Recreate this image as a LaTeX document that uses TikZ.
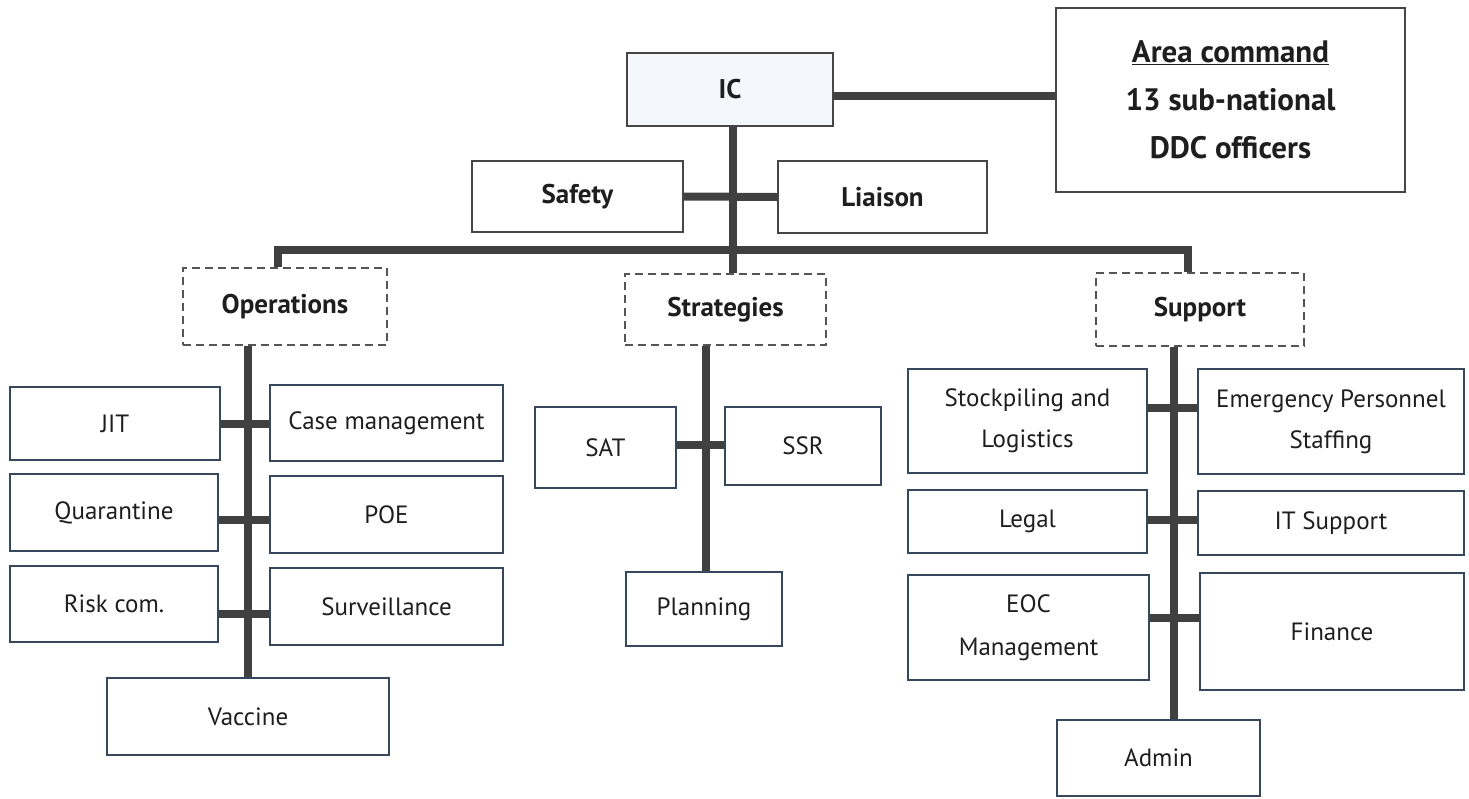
\documentclass[tikz,border=0pt]{standalone}
\usepackage{fontspec}
\setmainfont{PT Sans}
\definecolor{boxc}{RGB}{55,72,92}
\definecolor{topc}{RGB}{70,70,72}
\definecolor{dashc}{RGB}{85,85,85}
\definecolor{linec}{RGB}{64,64,64}
\definecolor{txt}{RGB}{30,30,30}
\definecolor{tint}{RGB}{244,248,252}
\begin{document}
\begin{tikzpicture}[x=1pt,y=-1pt,
  box/.style={draw=boxc, line width=2.2pt, fill=white, text=txt,
    font=\fontsize{25}{41}\selectfont, align=center, inner sep=0pt},
  topbox/.style={draw=topc, line width=2.2pt, fill=white, text=txt,
    font=\bfseries\fontsize{27}{30}\selectfont, align=center, inner sep=0pt},
  dbox/.style={draw=dashc, line width=2pt, dash pattern=on 8pt off 5pt,
    fill=white, text=txt, font=\bfseries\fontsize{27}{30}\selectfont, inner sep=0pt},
  link/.style={draw=linec, line width=8pt}]
\useasboundingbox (0,0) rectangle (1469,798);

% top level
\node[topbox, fill=tint, minimum width=206pt, minimum height=73pt] (ic) at (730,89.5) {IC};
\node[topbox, minimum width=349pt, minimum height=184pt,
  font=\bfseries\fontsize{31}{48}\selectfont] (area) at (1230.5,100)
  {\underline{Area command}\\13 sub-national\\DDC officers};
\node[topbox, minimum width=211pt, minimum height=71pt] (safety) at (577.5,196.5) {Safety};
\node[topbox, minimum width=209pt, minimum height=72pt] (liaison) at (882.5,197) {Liaison};

% sections
\node[dbox, minimum width=204pt, minimum height=77pt] (ops) at (285,306.5) {Operations};
\node[dbox, minimum width=201pt, minimum height=71pt] (strat) at (725.5,309.5) {Strategies};
\node[dbox, minimum width=208pt, minimum height=73pt] (sup) at (1200,309.5) {Support};

% operations
\node[box, minimum width=210pt, minimum height=73pt] (jit) at (115,423.5) {JIT};
\node[box, minimum width=233pt, minimum height=76pt] (case) at (386.5,423) {Case management};
\node[box, minimum width=208pt, minimum height=77pt] (quar) at (114,512.5) {Quarantine};
\node[box, minimum width=233pt, minimum height=77pt] (poe) at (386.5,514.5) {POE};
\node[box, minimum width=208pt, minimum height=76pt] (risk) at (114,604) {Risk com.};
\node[box, minimum width=233pt, minimum height=77pt] (surv) at (386.5,606.5) {Surveillance};
\node[box, minimum width=282pt, minimum height=77pt] (vacc) at (248,716.5) {Vaccine};

% strategies
\node[box, minimum width=141pt, minimum height=81pt] (sat) at (605.5,447.5) {SAT};
\node[box, minimum width=156pt, minimum height=78pt] (ssr) at (803,446) {SSR};
\node[box, minimum width=156pt, minimum height=74pt] (plan) at (704,609) {Planning};

% support
\node[box, minimum width=239pt, minimum height=104pt] (stock) at (1027.5,421) {Stockpiling and\\Logistics};
\node[box, minimum width=266pt, minimum height=105pt] (emerg) at (1331,421.5) {Emergency Personnel\\Staffing};
\node[box, minimum width=239pt, minimum height=63pt] (legal) at (1027.5,521.5) {Legal};
\node[box, minimum width=266pt, minimum height=64pt] (it) at (1331,523) {IT Support};
\node[box, minimum width=241pt, minimum height=105pt,
  font=\fontsize{25}{43}\selectfont] (eoc) at (1028.5,627.5) {EOC\\Management};
\node[box, minimum width=264pt, minimum height=117pt] (fin) at (1332,631.5) {Finance};
\node[box, minimum width=203pt, minimum height=76pt] (admin) at (1158.5,758) {Admin};

% connectors
\coordinate (bar) at (733,250);
\draw[link] ([yshift=-6.5pt]ic.east) -- ([yshift=-6.5pt]ic.east -| area.west);
\draw[link] ([xshift=3pt]ic.south) -- ([xshift=3pt]ic.south |- strat.north);
\draw[link] (safety.east) -- (liaison.west);
\draw[link] ([xshift=-7pt]ops.north) |- (bar) -| ([xshift=-12pt]sup.north);

\draw[link] (vacc.north) -- (vacc.north |- ops.south);
\draw[link] (jit.east) -- (jit.east -| case.west);
\draw[link] ([yshift=-7.5pt]quar.east) -- ([yshift=-7.5pt]quar.east -| poe.west);
\draw[link] ([yshift=-10pt]risk.east) -- ([yshift=-10pt]risk.east -| surv.west);

\draw[link] ([xshift=2pt]plan.north) -- ([xshift=2pt]plan.north |- strat.south);
\draw[link] ([yshift=3pt]sat.east) -- ([yshift=3pt]sat.east -| ssr.west);

\draw[link] ([xshift=15.5pt]admin.north) -- ([xshift=15.5pt]admin.north |- sup.south);
\draw[link] ([yshift=13pt]stock.east) -- ([yshift=13pt]stock.east -| emerg.west);
\draw[link] ([yshift=1.5pt]legal.east) -- ([yshift=1.5pt]legal.east -| it.west);
\draw[link] ([yshift=10pt]eoc.east) -- ([yshift=10pt]eoc.east -| fin.west);
\end{tikzpicture}
\end{document}
